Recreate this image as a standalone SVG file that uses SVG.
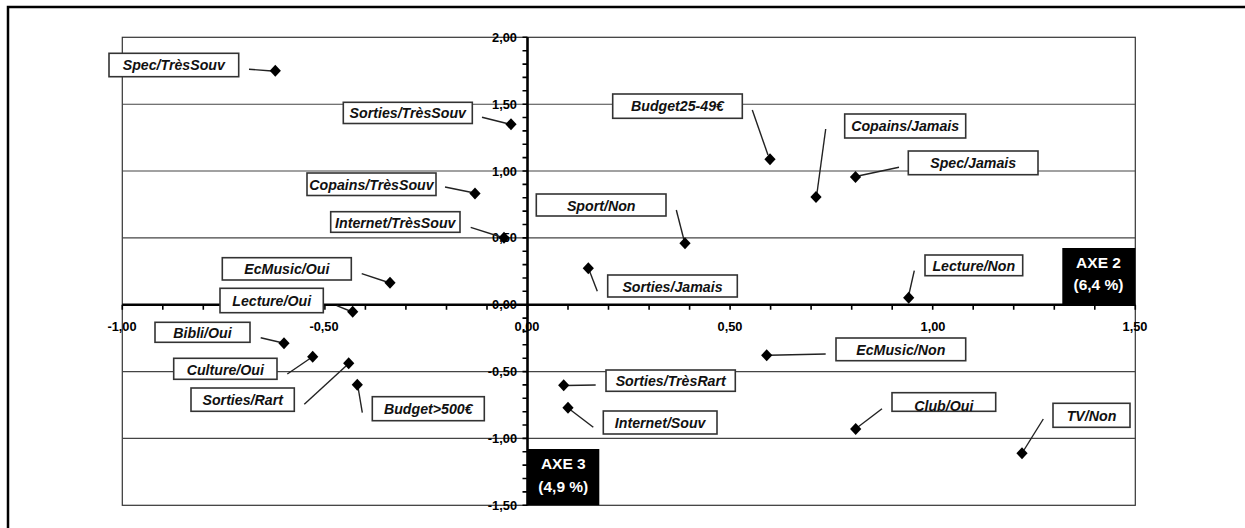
<svg xmlns="http://www.w3.org/2000/svg" width="1245" height="528" viewBox="0 0 1245 528">
  <style>
    .frame { fill: none; stroke: #000; stroke-width: 2.5; }
    .plot { fill: none; stroke: #333; stroke-width: 1.2; }
    .grid { stroke: #444; stroke-width: 1.1; }
    .axis { stroke: #000; stroke-width: 2.6; }
    .tick { stroke: #000; stroke-width: 1.6; }
    .tl { font-family: "Liberation Sans", Arial, sans-serif; font-weight: bold; font-size: 12.8px; fill: #000; }
    .box { fill: #fff; stroke: #333; stroke-width: 1.6; }
    .lbl { font-family: "Liberation Sans", Arial, sans-serif; font-weight: bold; font-style: italic; font-size: 14.2px; fill: #111; text-anchor: middle; }
    .lead { stroke: #222; stroke-width: 1.4; fill: none; }
    .axe { fill: #000; }
    .axet { font-family: "Liberation Sans", Arial, sans-serif; font-weight: bold; font-size: 15.5px; fill: #fff; text-anchor: middle; }
  </style>
  <defs>
    <path id="dm" d="M0,-6 L5.6,0 L0,6 L-5.6,0 Z" fill="#000"/>
  </defs>

  <rect width="1245" height="528" fill="#fff"/>
  <rect class="frame" x="8" y="7" width="1260" height="540"/>

  <!-- plot area and horizontal gridlines -->
  <g id="grid">
    <rect class="plot" x="122.3" y="37.3" width="1013" height="468"/>
    <line class="grid" x1="122.3" y1="104.2" x2="1135.3" y2="104.2"/>
    <line class="grid" x1="122.3" y1="171" x2="1135.3" y2="171"/>
    <line class="grid" x1="122.3" y1="237.9" x2="1135.3" y2="237.9"/>
    <line class="grid" x1="122.3" y1="371.6" x2="1135.3" y2="371.6"/>
    <line class="grid" x1="122.3" y1="438.4" x2="1135.3" y2="438.4"/>
  </g>

  <!-- axes with minor ticks every 0.1 -->
  <g id="axes">
    <line class="axis" x1="122.3" y1="304.7" x2="1135.3" y2="304.7"/>
    <line class="axis" x1="527.5" y1="37.3" x2="527.5" y2="505.3"/>
    <path class="tick" d="M122.3,304.7v5 M162.8,304.7v5 M203.3,304.7v5 M243.9,304.7v5 M284.4,304.7v5 M324.9,304.7v5 M365.4,304.7v5 M405.9,304.7v5 M446.5,304.7v5 M487,304.7v5 M527.5,304.7v5 M568,304.7v5 M608.5,304.7v5 M649.1,304.7v5 M689.6,304.7v5 M730.1,304.7v5 M770.6,304.7v5 M811.1,304.7v5 M851.7,304.7v5 M892.2,304.7v5 M932.7,304.7v5 M973.2,304.7v5 M1013.7,304.7v5 M1054.3,304.7v5 M1094.8,304.7v5 M1135.3,304.7v5"/>
    <path class="tick" d="M527.5,37.3h-5 M527.5,50.7h-5 M527.5,64.1h-5 M527.5,77.4h-5 M527.5,90.8h-5 M527.5,104.2h-5 M527.5,117.5h-5 M527.5,130.9h-5 M527.5,144.3h-5 M527.5,157.6h-5 M527.5,171h-5 M527.5,184.4h-5 M527.5,197.7h-5 M527.5,211.1h-5 M527.5,224.5h-5 M527.5,237.9h-5 M527.5,251.2h-5 M527.5,264.6h-5 M527.5,278h-5 M527.5,291.3h-5 M527.5,304.7h-5 M527.5,318.1h-5 M527.5,331.4h-5 M527.5,344.8h-5 M527.5,358.2h-5 M527.5,371.6h-5 M527.5,384.9h-5 M527.5,398.3h-5 M527.5,411.7h-5 M527.5,425h-5 M527.5,438.4h-5 M527.5,451.8h-5 M527.5,465.1h-5 M527.5,478.5h-5 M527.5,491.9h-5 M527.5,505.3h-5"/>
    <g class="tl" text-anchor="middle">
      <text x="122" y="331.3">-1,00</text>
      <text x="324" y="331.3">-0,50</text>
      <text x="527" y="331.3">0,00</text>
      <text x="730" y="331.3">0,50</text>
      <text x="933" y="331.3">1,00</text>
      <text x="1135" y="331.3">1,50</text>
    </g>
    <g class="tl" text-anchor="end">
      <text x="517" y="41.8">2,00</text>
      <text x="517" y="108.7">1,50</text>
      <text x="517" y="175.5">1,00</text>
      <text x="517" y="242.4">0,50</text>
      <text x="517" y="309.2">0,00</text>
      <text x="517" y="376.1">-0,50</text>
      <text x="517" y="442.9">-1,00</text>
      <text x="517" y="509.8">-1,50</text>
    </g>
  </g>

  <!-- leader lines from labels to points -->
  <g id="connectors">
    <line class="lead" x1="249" y1="69.3" x2="272" y2="71"/>
    <line class="lead" x1="482" y1="117.3" x2="507" y2="123.5"/>
    <line class="lead" x1="752.3" y1="110" x2="768" y2="155"/>
    <line class="lead" x1="825.7" y1="129" x2="817" y2="193"/>
    <line class="lead" x1="899" y1="167.3" x2="858" y2="176"/>
    <line class="lead" x1="445" y1="187" x2="472" y2="192.5"/>
    <line class="lead" x1="470.7" y1="227.3" x2="501" y2="237"/>
    <line class="lead" x1="361.7" y1="273.7" x2="387" y2="282"/>
    <line class="lead" x1="336.7" y1="305.7" x2="350" y2="311"/>
    <line class="lead" x1="260.7" y1="337.7" x2="281" y2="342.5"/>
    <line class="lead" x1="287.3" y1="374" x2="310" y2="358.5"/>
    <line class="lead" x1="304.3" y1="404.3" x2="346" y2="366"/>
    <line class="lead" x1="362.3" y1="412.7" x2="358" y2="387"/>
    <line class="lead" x1="676.3" y1="210" x2="684" y2="240"/>
    <line class="lead" x1="597.3" y1="291.3" x2="589.5" y2="271"/>
    <line class="lead" x1="914.3" y1="270.7" x2="909" y2="294"/>
    <line class="lead" x1="825.7" y1="354" x2="769" y2="355.3"/>
    <line class="lead" x1="595.7" y1="385" x2="566" y2="385.5"/>
    <line class="lead" x1="593.3" y1="427.3" x2="570" y2="409.5"/>
    <line class="lead" x1="882" y1="408.7" x2="858" y2="427"/>
    <line class="lead" x1="1043.3" y1="419" x2="1024" y2="450"/>
  </g>

  <!-- category points and their labels -->
  <g id="spec-tres-souv"><rect class="box" x="109" y="53.3" width="129.7" height="23.4"/><text class="lbl" x="173.8" y="70">Spec/TrèsSouv</text><use href="#dm" x="275.3" y="70.7"/></g>
  <g id="sorties-tres-souv"><rect class="box" x="343.3" y="102.3" width="129" height="21.2"/><text class="lbl" x="407.8" y="118">Sorties/TrèsSouv</text><use href="#dm" x="511" y="124.3"/></g>
  <g id="budget25-49"><rect class="box" x="612.7" y="94" width="129.6" height="24.3"/><text class="lbl" x="677.5" y="111">Budget25-49€</text><use href="#dm" x="770" y="159.3"/></g>
  <g id="copains-jamais"><rect class="box" x="844.7" y="114" width="121" height="24"/><text class="lbl" x="905.2" y="131">Copains/Jamais</text><use href="#dm" x="816" y="197"/></g>
  <g id="spec-jamais"><rect class="box" x="908.3" y="151" width="129.7" height="23.7"/><text class="lbl" x="973.2" y="168">Spec/Jamais</text><use href="#dm" x="855.5" y="177"/></g>
  <g id="copains-tres-souv"><rect class="box" x="307" y="173" width="129" height="22.5"/><text class="lbl" x="371.5" y="189.5">Copains/TrèsSouv</text><use href="#dm" x="475" y="193.5"/></g>
  <g id="internet-tres-souv"><rect class="box" x="330.7" y="211.7" width="129.3" height="20.6"/><text class="lbl" x="395.3" y="227.5">Internet/TrèsSouv</text><use href="#dm" x="504" y="237.7"/></g>
  <g id="ecmusic-oui"><rect class="box" x="222.3" y="257.7" width="129" height="22.3"/><text class="lbl" x="286.8" y="274">EcMusic/Oui</text><use href="#dm" x="390" y="282.7"/></g>
  <g id="lecture-oui"><rect class="box" x="220" y="288.3" width="103.3" height="24.4"/><text class="lbl" x="271.7" y="305.5">Lecture/Oui</text><use href="#dm" x="352.7" y="311.7"/></g>
  <g id="bibli-oui"><rect class="box" x="155" y="322.3" width="95" height="20"/><text class="lbl" x="202.5" y="338">Bibli/Oui</text><use href="#dm" x="284" y="343.3"/></g>
  <g id="culture-oui"><rect class="box" x="173.7" y="358.3" width="103.3" height="21"/><text class="lbl" x="225.3" y="374.5">Culture/Oui</text><use href="#dm" x="312.7" y="356.7"/></g>
  <g id="sorties-rart"><rect class="box" x="191" y="388" width="103.3" height="23.3"/><text class="lbl" x="242.7" y="405">Sorties/Rart</text><use href="#dm" x="348.7" y="363.3"/></g>
  <g id="budget-500"><rect class="box" x="372.3" y="396.7" width="112" height="24"/><text class="lbl" x="428.3" y="414">Budget&gt;500€</text><use href="#dm" x="357.3" y="384.7"/></g>
  <g id="sport-non"><rect class="box" x="536.3" y="194" width="129.7" height="22"/><text class="lbl" x="601.2" y="210.5">Sport/Non</text><use href="#dm" x="685" y="243.3"/></g>
  <g id="sorties-jamais"><rect class="box" x="607.7" y="275" width="129.6" height="22"/><text class="lbl" x="672.5" y="291.5">Sorties/Jamais</text><use href="#dm" x="588.3" y="268.3"/></g>
  <g id="lecture-non"><rect class="box" x="925" y="255" width="97.7" height="20.7"/><text class="lbl" x="973.8" y="270.5">Lecture/Non</text><use href="#dm" x="908.7" y="297.7"/></g>
  <g id="ecmusic-non"><rect class="box" x="836" y="338" width="129.7" height="22.7"/><text class="lbl" x="900.8" y="354.5">EcMusic/Non</text><use href="#dm" x="766.7" y="355.3"/></g>
  <g id="sorties-tres-rart"><rect class="box" x="606" y="370" width="129.3" height="21.3"/><text class="lbl" x="670.7" y="386">Sorties/TrèsRart</text><use href="#dm" x="563.7" y="385.3"/></g>
  <g id="internet-souv"><rect class="box" x="603.3" y="411" width="113.7" height="23"/><text class="lbl" x="660.2" y="428">Internet/Souv</text><use href="#dm" x="568" y="407.7"/></g>
  <g id="club-oui"><rect class="box" x="892" y="392.7" width="103.7" height="18.6"/><text class="lbl" x="943.8" y="410.5">Club/Oui</text><use href="#dm" x="855.7" y="429"/></g>
  <g id="tv-non"><rect class="box" x="1053" y="403.3" width="77" height="24"/><text class="lbl" x="1091.5" y="420.5">TV/Non</text><use href="#dm" x="1022" y="453.3"/></g>

  <!-- axis captions -->
  <g id="axe2"><rect class="axe" x="1062.3" y="248" width="73" height="57"/><text class="axet" x="1098.5" y="267.5">AXE 2</text><text class="axet" x="1098.5" y="290">(6,4 %)</text></g>
  <g id="axe3"><rect class="axe" x="527.3" y="449" width="72" height="56.3"/><text class="axet" x="563.3" y="469">AXE 3</text><text class="axet" x="563.3" y="491.5">(4,9 %)</text></g>
</svg>
